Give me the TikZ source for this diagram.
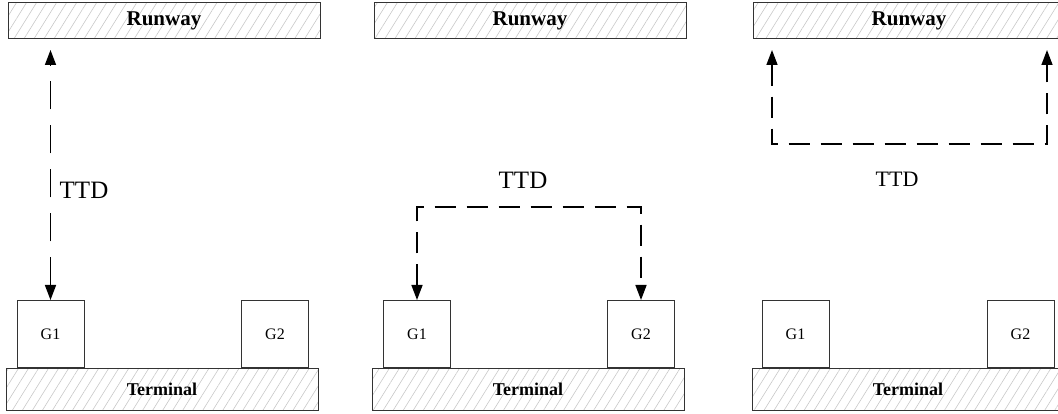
\documentclass[tikz,border=0pt]{standalone}
\usepackage{fontspec}
\setmainfont{Liberation Serif}
\usepackage{tikz}
\usetikzlibrary{positioning, arrows.meta, calc, patterns.meta}
\definecolor{boxline}{HTML}{333333}
\definecolor{hatch}{HTML}{c8c8c8}

\begin{document}
\begin{tikzpicture}[x=1pt,y=-1pt,
 strip/.style={draw=boxline, line width=1pt, minimum width=312pt, inner sep=0pt,
   pattern={Lines[angle=58,distance=8.5pt,line width=0.6pt]}, pattern color=hatch},
 gate/.style={draw=boxline, line width=1pt, minimum width=67pt, minimum height=67pt, inner sep=0pt, fill=white,
   font=\fontsize{16}{16}\selectfont},
 ttd/.style={line width=1.5pt, dash pattern=on 21pt off 11pt,
   {Triangle[length=15pt,width=11pt]}-{Triangle[length=15pt,width=11pt]}}]
\useasboundingbox (0,0) rectangle (1058,414);

% panel 1
\node[strip, minimum height=36pt, font=\fontsize{21}{21}\bfseries](rw1) at (164,21){Runway};
\node[strip, minimum height=42pt, font=\fontsize{18}{18}\bfseries](tm1) at (162,389){Terminal};
\node[gate, anchor=south](g11) at (50.5,368){G1};
\node[gate, anchor=south](g12) at (275,368){G2};
% panel 2
\node[strip, minimum height=36pt, font=\fontsize{21}{21}\bfseries](rw2) at (530,21){Runway};
\node[strip, minimum height=42pt, font=\fontsize{18}{18}\bfseries](tm2) at (528,389){Terminal};
\node[gate, anchor=south](g21) at (417,368){G1};
\node[gate, anchor=south](g22) at (641,368){G2};
% panel 3
\node[strip, minimum height=36pt, font=\fontsize{21}{21}\bfseries](rw3) at (909,21){Runway};
\node[strip, minimum height=42pt, font=\fontsize{18}{18}\bfseries](tm3) at (908,389){Terminal};
\node[gate, anchor=south](g31) at (795.5,368){G1};
\node[gate, anchor=south](g32) at (1020.5,368){G2};

\node[font=\fontsize{25}{25}\selectfont](ttd1) at (84,190){TTD};
\node[font=\fontsize{25}{25}\selectfont](ttd2) at (523,180){TTD};
\node[font=\fontsize{22}{22}\selectfont](ttd3) at (897,179){TTD};

\coordinate (p1) at (50.5,50);
\coordinate (p2) at (417,207);
\coordinate (p3a) at (772,50);
\coordinate (p3b) at (1047,50);
\coordinate (p3) at (772,144);

\draw[ttd, dash pattern=on 28pt off 16pt](g11.north)--(p1);
\draw[ttd](g21.north)--(p2)-|(g22.north);
\draw[ttd](p3a)--(p3)-|(p3b);

\end{tikzpicture}
\end{document}
